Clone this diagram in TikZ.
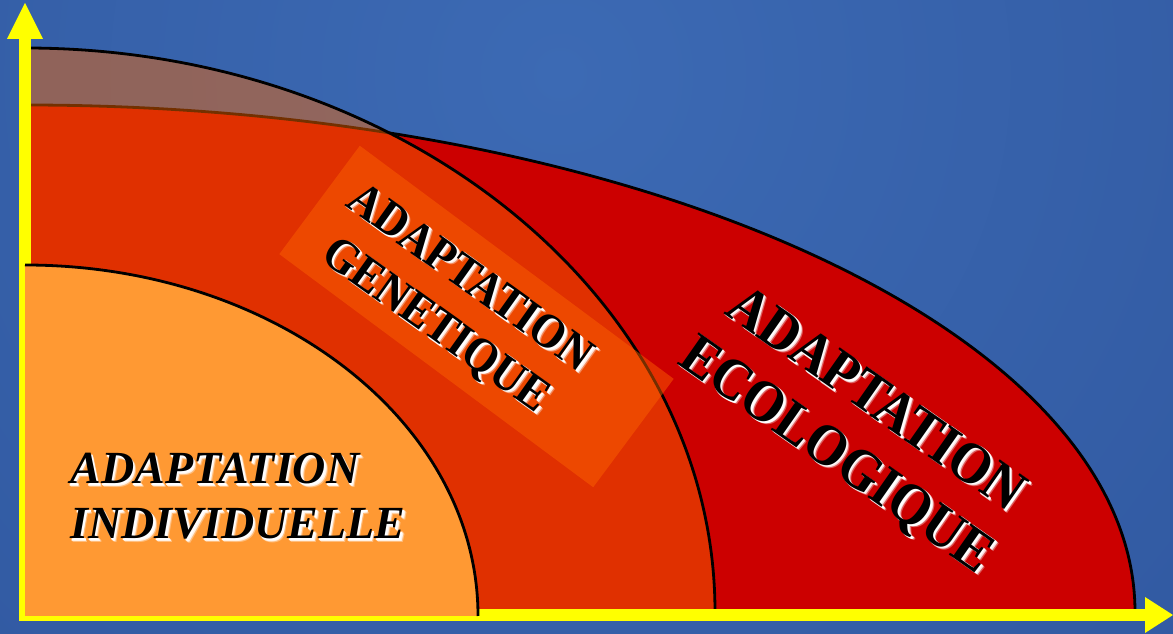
\documentclass[tikz,border=0pt]{standalone}
\usepackage{fontspec}
\setmainfont{Liberation Serif}
\newcommand\glowtext[4]{% #1 name, #2 position, #3 node options, #4 text
  \node[#3, text=white, text opacity=0.35] at ([shift={(3.4,-3.4)}]#2) {#4};
  \node[#3, text=white, text opacity=0.8] at ([shift={(2.4,-2.4)}]#2) {#4};
  \node[#3, text=white] at ([shift={(1.5,-1.5)}]#2) {#4};
  \node[#3, text=black] (#1) at (#2) {#4};}
\begin{document}
\begin{tikzpicture}[x=1pt,y=1pt]
\definecolor{bgblue}{RGB}{49,89,161}
\definecolor{bglight}{RGB}{60,106,180}
\definecolor{ecored}{RGB}{204,0,0}
\definecolor{genorange}{RGB}{247,103,0}
\definecolor{indorange}{RGB}{255,153,51}
\definecolor{axisyellow}{RGB}{255,255,0}
\definecolor{boxorange}{RGB}{255,102,0}
\tikzset{
  outline/.style={draw=black, line width=2.8},
  rotlabel/.style={inner sep=0, align=center},
}
\useasboundingbox (0,0) rectangle (1173,634);
% background
\begin{scope}
  \clip (0,0) rectangle (1173,634);
  \fill[bgblue] (0,0) rectangle (1173,634);
  \shade[inner color=bglight, outer color=bgblue] (560,560) circle (900);
\end{scope}
% ecological domain
\fill[ecored] (25,22) -- (25,529) arc[start angle=90, end angle=0, x radius=1110, y radius=507] -- cycle;
\draw[outline] (25,529) arc[start angle=90, end angle=0, x radius=1110, y radius=507];
% genetic domain (translucent)
\fill[genorange, fill opacity=0.465] (25,22) -- (25,586) arc[start angle=90, end angle=0, x radius=690, y radius=564] -- cycle;
\draw[outline] (25,586) arc[start angle=90, end angle=0, x radius=690, y radius=564];
% translucent band behind the genetic label
\node[rotate=-36.6, minimum width=391, minimum height=135, inner sep=0,
      fill=boxorange, fill opacity=0.45] (genbox) at (476.5,317.5) {};
% axes
\fill[axisyellow] (19,13) rectangle (31,596);
\fill[axisyellow] (7,595) -- (25,631) -- (43,595) -- cycle;
\fill[axisyellow] (19,13) rectangle (1146,25);
\fill[axisyellow] (1145,37) -- (1173,19) -- (1145,1) -- cycle;
% individual domain
\fill[indorange] (25,18) -- (25,369) arc[start angle=90, end angle=0, x radius=453, y radius=351] -- cycle;
\draw[outline] (25,369) arc[start angle=90, end angle=0, x radius=453, y radius=351];
% labels
\glowtext{gentext}{452,331}{rotlabel, rotate=-35.5, yscale=1.1, font=\fontsize{44}{53}\selectfont\bfseries}{ADAPTATION\\GENETIQUE}
\glowtext{ecotext}{855,205}{rotlabel, rotate=-35, yscale=1.1, font=\fontsize{53}{62}\selectfont\bfseries}{ADAPTATION\\ECOLOGIQUE}
\glowtext{indtext}{238,137.5}{inner sep=0, align=left, font=\fontsize{46}{55}\selectfont\bfseries\itshape}{ADAPTATION\\INDIVIDUELLE}
\end{tikzpicture}
\end{document}
